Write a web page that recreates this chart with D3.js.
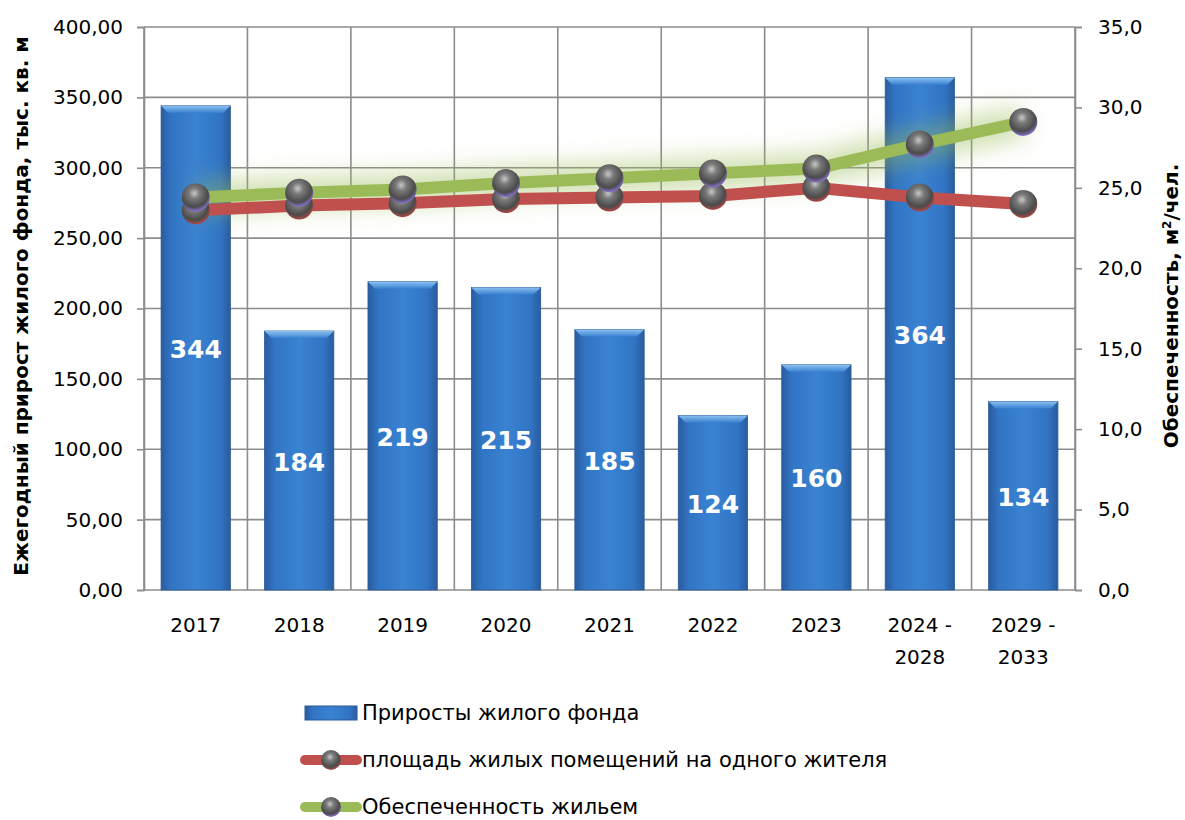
<!DOCTYPE html>
<html>
<head>
<meta charset="utf-8">
<script src="https://cdn.jsdelivr.net/npm/d3@7"></script>
<style>
  body { margin: 0; background: #fff; }
  text { font-family: "DejaVu Sans", sans-serif; fill: #000; }
</style>
</head>
<body>
<svg width="1185" height="820"></svg>
<script>
// categories and series
var categories = ['2017', '2018', '2019', '2020', '2021', '2022', '2023', '2024 - 2028', '2029 - 2033'];
var growth = [344, 184, 219, 215, 185, 124, 160, 364, 134];
var perResident = [23.6, 23.9, 24.05, 24.3, 24.4, 24.5, 25.0, 24.4, 24.0];
var provision = [24.4, 24.7, 24.9, 25.3, 25.6, 25.9, 26.2, 27.7, 29.1];
var leftTicks = [0, 50, 100, 150, 200, 250, 300, 350, 400];
var rightTicks = [0, 5, 10, 15, 20, 25, 30, 35];
var legendNames = ['Приросты жилого фонда', 'площадь жилых помещений на одного жителя', 'Обеспеченность жильем'];

var pLeft = 144, pRight = 1075, pTop = 27, pBottom = 590;
var svg = d3.select('svg');
var defs = svg.append('defs');

// bar gradient
var bg = defs.append('linearGradient').attr('id', 'barGrad').attr('x1', 0).attr('x2', 1).attr('y1', 0).attr('y2', 0);
bg.append('stop').attr('offset', '0%').attr('stop-color', '#2a5c9f');
bg.append('stop').attr('offset', '15%').attr('stop-color', '#3175c4');
bg.append('stop').attr('offset', '50%').attr('stop-color', '#3a82d2');
bg.append('stop').attr('offset', '85%').attr('stop-color', '#3175c4');
bg.append('stop').attr('offset', '100%').attr('stop-color', '#2a5c9f');
var bv = defs.append('linearGradient').attr('id', 'bevelGrad').attr('x1', 0).attr('x2', 0).attr('y1', 0).attr('y2', 1);
bv.append('stop').attr('offset', '0%').attr('stop-color', '#8cc0f0');
bv.append('stop').attr('offset', '100%').attr('stop-color', '#3a82d2');

// sphere markers
function sphere(id, rim) {
  var g = defs.append('radialGradient').attr('id', id).attr('cx', '45%').attr('cy', '35%').attr('r', '65%');
  g.append('stop').attr('offset', '0%').attr('stop-color', '#c8c8c8');
  g.append('stop').attr('offset', '30%').attr('stop-color', '#7a7a7a');
  g.append('stop').attr('offset', '75%').attr('stop-color', '#4a4a4a');
  g.append('stop').attr('offset', '100%').attr('stop-color', rim);
}
sphere('sphRed', '#b04848');
sphere('sphGreen', '#8a70d0');

var glow = defs.append('filter').attr('id', 'glow').attr('x', '-20%').attr('y', '-100%').attr('width', '140%').attr('height', '300%');
glow.append('feGaussianBlur').attr('stdDeviation', 12);

var x = d3.scaleBand().domain(categories).range([pLeft, pRight]).paddingInner(0.33).paddingOuter(0.165);
var band = d3.scaleBand().domain(categories).range([pLeft, pRight]);
var yL = d3.scaleLinear().domain([0, 400]).range([pBottom, pTop]);
var yR = d3.scaleLinear().domain([0, 35]).range([pBottom, pTop]);

// grid
svg.append('g').selectAll('line').data(leftTicks).enter().append('line')
  .attr('x1', pLeft).attr('x2', pRight)
  .attr('y1', function(d) { return yL(d); }).attr('y2', function(d) { return yL(d); })
  .attr('stroke', '#8c8c8c').attr('stroke-width', 1.6);
svg.append('g').selectAll('line').data(categories).enter().append('line')
  .attr('x1', function(d) { return band(d); }).attr('x2', function(d) { return band(d); })
  .attr('y1', pTop).attr('y2', pBottom)
  .attr('stroke', '#8c8c8c').attr('stroke-width', 1.6);
svg.append('line').attr('x1', pRight).attr('x2', pRight).attr('y1', pTop).attr('y2', pBottom)
  .attr('stroke', '#8c8c8c').attr('stroke-width', 1.6);

// axes
var axL = svg.append('g').attr('transform', 'translate(' + pLeft + ',0)')
  .call(d3.axisLeft(yL).tickValues(leftTicks).tickSize(7).tickPadding(14)
    .tickFormat(function(d) { return d3.format('.2f')(d).replace('.', ','); }));
var axR = svg.append('g').attr('transform', 'translate(' + pRight + ',0)')
  .call(d3.axisRight(yR).tickValues(rightTicks).tickSize(7).tickPadding(16)
    .tickFormat(function(d) { return d3.format('.1f')(d).replace('.', ','); }));
[axL, axR].forEach(function(a) {
  a.selectAll('path, line').attr('stroke', '#8c8c8c').attr('stroke-width', 1.6);
  a.selectAll('text').style('font-size', '20px').attr('fill', '#000').attr('font-family', '"DejaVu Sans", sans-serif');
});

// x labels
var xl = svg.append('g').selectAll('text').data(categories).enter().append('text')
  .attr('text-anchor', 'middle').style('font-size', '20px')
  .attr('x', function(d) { return band(d) + band.bandwidth() / 2; })
  .attr('y', 632);
xl.each(function(d) {
  var parts = d.split(' - ');
  var t = d3.select(this);
  if (parts.length === 1) { t.text(d); return; }
  t.append('tspan').attr('x', t.attr('x')).attr('dy', 0).text(parts[0] + ' -');
  t.append('tspan').attr('x', t.attr('x')).attr('dy', 32).text(parts[1]);
});

// bars
var bars = svg.append('g').selectAll('g').data(growth).enter().append('g');
bars.append('rect')
  .attr('x', function(d, i) { return x(categories[i]); })
  .attr('y', function(d) { return yL(d); })
  .attr('width', x.bandwidth())
  .attr('height', function(d) { return pBottom - yL(d); })
  .attr('fill', 'url(#barGrad)').attr('stroke', '#2b5a98').attr('stroke-width', 0.8);
bars.append('path')
  .attr('d', function(d, i) {
    var x0 = x(categories[i]), w = x.bandwidth(), y0 = yL(d);
    return 'M' + x0 + ',' + y0 + 'H' + (x0 + w) + 'L' + (x0 + w - 7) + ',' + (y0 + 7) + 'H' + (x0 + 7) + 'Z';
  })
  .attr('fill', 'url(#bevelGrad)');
bars.append('text')
  .attr('x', function(d, i) { return x(categories[i]) + x.bandwidth() / 2; })
  .attr('y', function(d) { return (yL(d) + pBottom) / 2 + 10; })
  .attr('text-anchor', 'middle').style('font-size', '25px').style('font-weight', 'bold')
  .style('fill', '#fff')
  .text(function(d) { return d; });

// lines
var cx = function(d, i) { return band(categories[i]) + band.bandwidth() / 2; };
var line = d3.line().x(cx).y(function(d) { return yR(d); });

svg.append('path').datum(provision).attr('d', line).attr('fill', 'none')
  .attr('stroke', '#9bbb59').attr('stroke-width', 30).attr('opacity', 0.5).attr('filter', 'url(#glow)');
svg.append('path').datum(perResident).attr('d', line).attr('fill', 'none')
  .attr('stroke', '#c0504d').attr('stroke-width', 12).attr('stroke-linejoin', 'round');
svg.append('path').datum(provision).attr('d', line).attr('fill', 'none')
  .attr('stroke', '#9bbb59').attr('stroke-width', 12).attr('stroke-linejoin', 'round');

function markers(data, grad) {
  svg.append('g').selectAll('circle').data(data).enter().append('circle')
    .attr('cx', cx).attr('cy', function(d) { return yR(d); }).attr('r', 14)
    .attr('fill', 'url(#' + grad + ')');
}
markers(perResident, 'sphRed');
markers(provision, 'sphGreen');

// axis titles
svg.append('text').attr('transform', 'translate(28,306) rotate(-90)')
  .attr('text-anchor', 'middle').style('font-size', '20px').style('font-weight', 'bold')
  .text('Ежегодный прирост жилого фонда, тыс. кв. м');
var rt = svg.append('text').attr('transform', 'translate(1178,306) rotate(-90)')
  .attr('text-anchor', 'middle').style('font-size', '20px').style('font-weight', 'bold');
rt.append('tspan').text('Обеспеченность, м');
rt.append('tspan').attr('baseline-shift', 'super').style('font-size', '12px').text('2');
rt.append('tspan').text('/чел.');

// legend
var lg = svg.append('g');
var ly = [713, 760, 807];
lg.append('rect').attr('x', 305).attr('y', ly[0] - 7).attr('width', 52).attr('height', 14).attr('fill', 'url(#barGrad)').attr('stroke', '#2b5a98');
lg.append('line').attr('x1', 305).attr('x2', 357).attr('y1', ly[1]).attr('y2', ly[1]).attr('stroke', '#c0504d').attr('stroke-width', 10).attr('stroke-linecap', 'round');
lg.append('circle').attr('cx', 331).attr('cy', ly[1]).attr('r', 10).attr('fill', 'url(#sphRed)');
lg.append('line').attr('x1', 305).attr('x2', 357).attr('y1', ly[2]).attr('y2', ly[2]).attr('stroke', '#9bbb59').attr('stroke-width', 10).attr('stroke-linecap', 'round');
lg.append('circle').attr('cx', 331).attr('cy', ly[2]).attr('r', 10).attr('fill', 'url(#sphGreen)');
lg.selectAll('text').data(legendNames).enter().append('text')
  .attr('x', 362).attr('y', function(d, i) { return ly[i] + 7; })
  .style('font-size', '21px').text(function(d) { return d; });
</script>
</body>
</html>
